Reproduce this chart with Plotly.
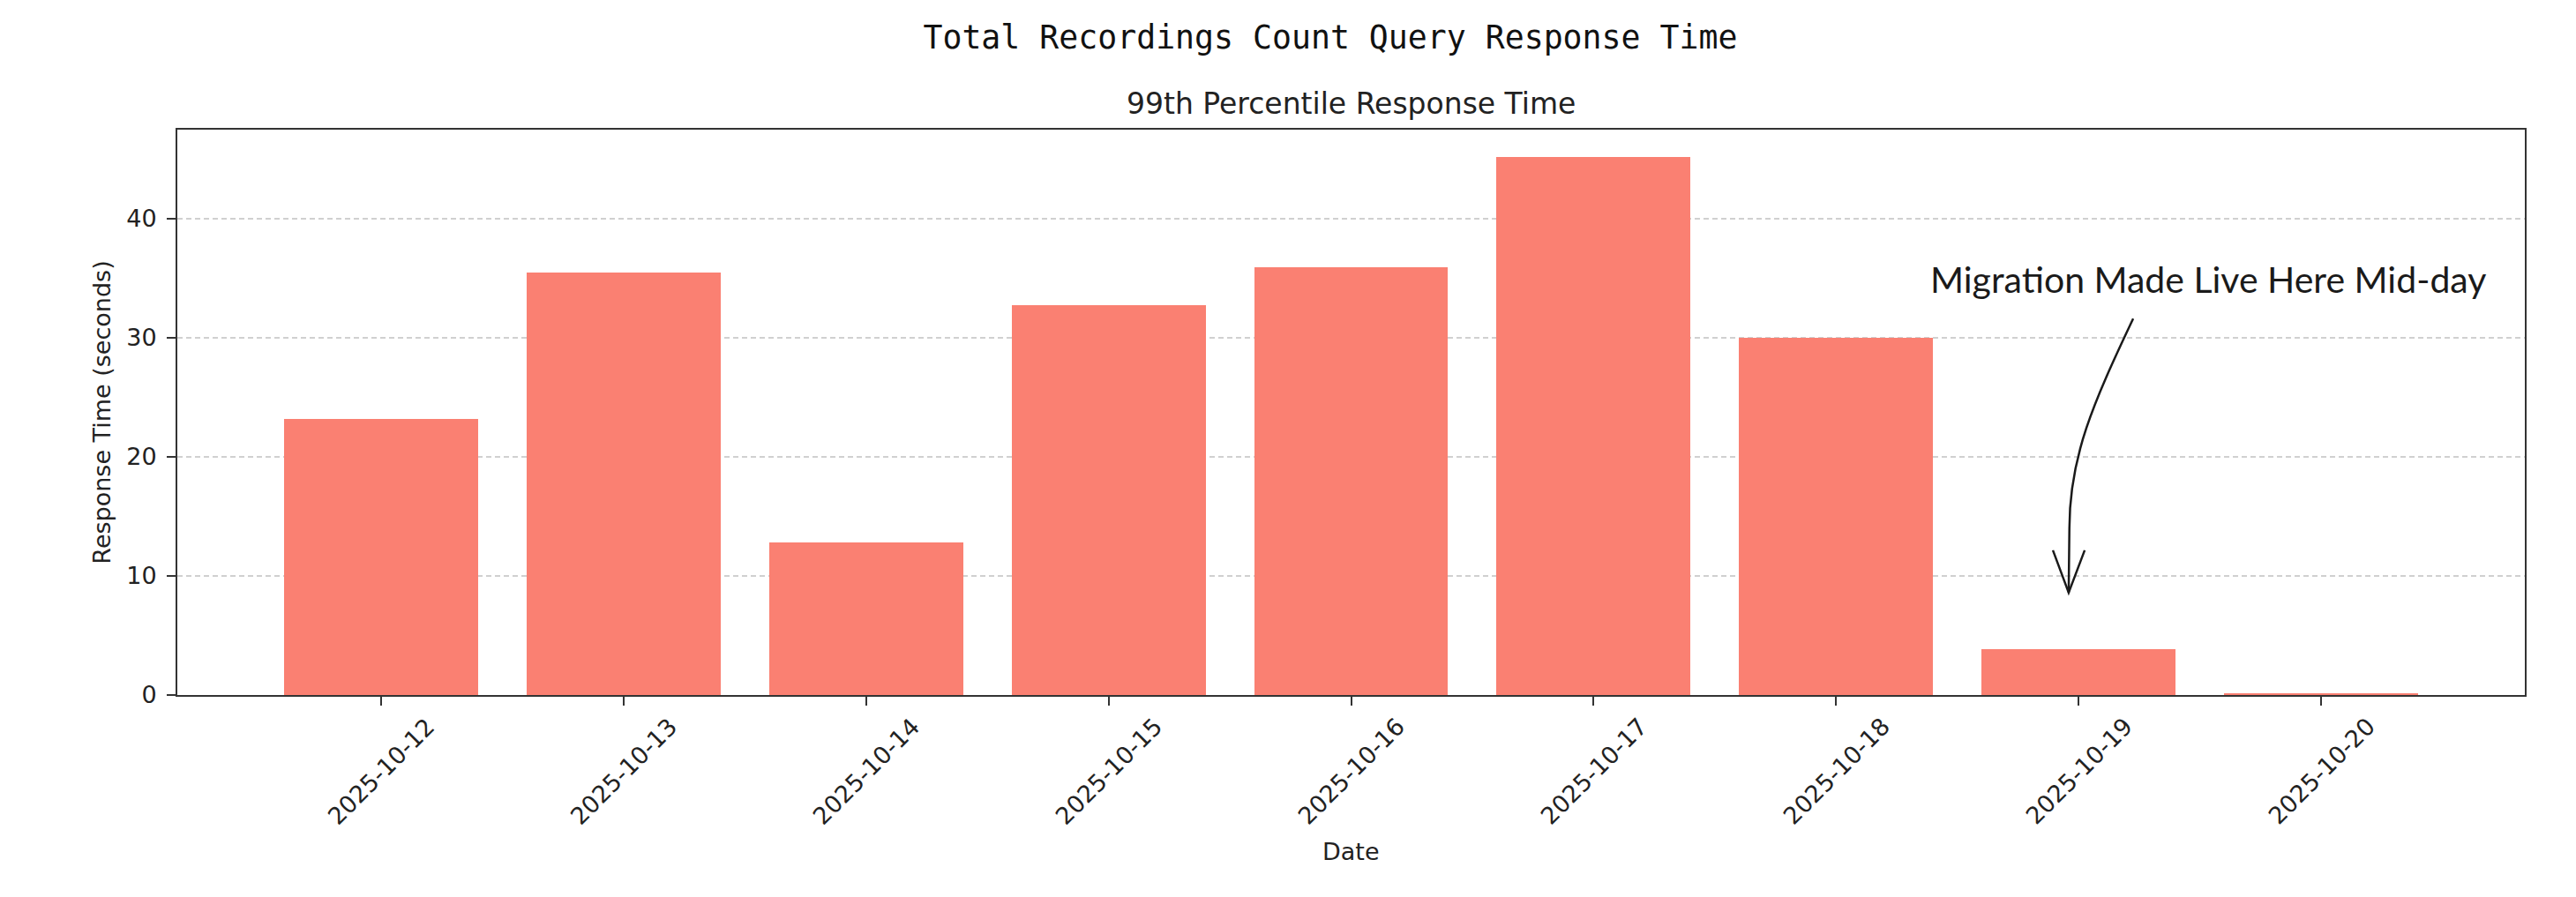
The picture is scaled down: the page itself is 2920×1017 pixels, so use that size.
import plotly.graph_objects as go

# 99th percentile response time per day (seconds)
dates = ['2025-10-12', '2025-10-13', '2025-10-14', '2025-10-15', '2025-10-16',
         '2025-10-17', '2025-10-18', '2025-10-19', '2025-10-20']
p99_seconds = [23.2, 35.5, 12.8, 32.7, 35.9, 45.2, 30.0, 3.85, 0.15]
y_ticks = [0, 10, 20, 30, 40]

BAR_COLOR = '#FA8072'
AXIS_COLOR = '#333333'
TICK_FONT = dict(family='DejaVu Sans', size=27, color='#222222')

fig = go.Figure()
fig.add_trace(go.Bar(x=dates, y=p99_seconds, width=0.8,
                     marker=dict(color=BAR_COLOR, line=dict(width=0)),
                     showlegend=False, hoverinfo='x+y'))

ymax = max(p99_seconds) * 1.05
n = len(dates)

# page body has an 8px margin, so the figure is a little smaller than the window
fig.update_layout(
    width=2904, height=1001,
    margin=dict(l=193, r=50, t=139, b=221),
    paper_bgcolor='white', plot_bgcolor='white',
    title=dict(text='Total Recordings Count Query Response Time',
               font=dict(family='DejaVu Sans Mono', size=36.5, color='#111111'),
               x=0.5165, xanchor='center', xref='container',
               y=1 - 34 / 1001, yanchor='middle', yref='container'),
    bargap=0,
)

fig.update_xaxes(type='category', range=[-0.84, n - 1 + 0.84],
                 showgrid=False, showticklabels=False,
                 ticks='outside', ticklen=10, tickwidth=2, tickcolor=AXIS_COLOR,
                 showline=True, linecolor=AXIS_COLOR, linewidth=2, mirror=True)
fig.update_yaxes(range=[0, ymax], tickvals=y_ticks, tickfont=TICK_FONT,
                 ticks='outside', ticklen=10, tickwidth=2, tickcolor=AXIS_COLOR,
                 ticklabelstandoff=6,
                 showgrid=True, gridcolor='#d0d0d0', gridwidth=1.5, griddash='6px,4px',
                 zeroline=False,
                 showline=True, linecolor=AXIS_COLOR, linewidth=2, mirror=True,
                 title=dict(text='Response Time (seconds)', standoff=10,
                            font=dict(family='DejaVu Sans', size=27, color='#222222')))

# rotated date labels, centred on each tick like matplotlib
for d in dates:
    fig.add_annotation(x=d, y=0, xref='x', yref='paper', text=d, textangle=-45,
                       showarrow=False, xanchor='center', yanchor='middle', yshift=-86,
                       font=TICK_FONT)

fig.add_annotation(x=0.5, y=0, xref='paper', yref='paper', text='Date', showarrow=False,
                   xanchor='center', yanchor='middle', yshift=-177,
                   font=dict(family='DejaVu Sans', size=27, color='#222222'))

# subplot title
fig.add_annotation(x=0.5, y=1, xref='paper', yref='paper', text='99th Percentile Response Time',
                   showarrow=False, xanchor='center', yanchor='middle', yshift=30,
                   font=dict(family='DejaVu Sans', size=33, color='#222222'))

# hand-drawn style callout
fig.add_annotation(x=7.535, y=34.9, xref='x', yref='y', text='Migration Made Live Here Mid-day',
                   showarrow=False, xanchor='center', yanchor='middle',
                   font=dict(family='Lato', size=41, color='#1a1a1a'))
fig.add_shape(type='path', xref='x', yref='y',
              path='M 7.225,31.6 C 7.06,24.5 6.962,20 6.962,14 L 6.959,8.6',
              line=dict(color='#1a1a1a', width=2.5))
fig.add_shape(type='path', xref='x', yref='y',
              path='M 6.894,12.15 L 6.959,8.6 L 7.025,12.15',
              line=dict(color='#1a1a1a', width=2.5))

fig.write_html('out.html')
